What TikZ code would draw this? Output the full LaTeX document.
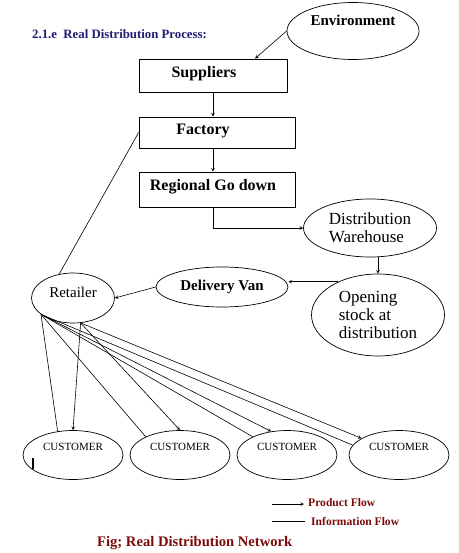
\documentclass[tikz,border=0pt]{standalone}
\usepackage{fontspec}
\setmainfont{Liberation Serif}
\usepackage{xcolor}
\usepackage{tikz}
\usetikzlibrary{shapes.geometric}
\definecolor{titleblue}{RGB}{30,30,115}
\definecolor{capred}{RGB}{125,10,10}
\newcommand{\fsz}[1]{\fontsize{#1}{1.06\dimexpr#1pt\relax}\selectfont}

\begin{document}
\begin{tikzpicture}[x=1pt, y=-1pt,
  box/.style = {draw, line width=0.8pt, rectangle, inner sep=0pt},
  oval/.style = {draw, line width=0.7pt, ellipse, inner sep=0pt},
  prod/.style = {-stealth, line width=0.6pt},
  info/.style = {line width=0.6pt},
  bigbold/.style = {font=\fsz{16}\bfseries},
  cust/.style = {oval, minimum width=100pt, minimum height=49pt},
  custtxt/.style = {font=\fsz{11}}]
  \useasboundingbox (0,0) rectangle (458,553);

  % Heading
  \node[anchor=west, inner sep=0pt, text=titleblue, font=\fsz{12.8}\bfseries] (title) at (32,34) {2.1.e\ \ Real Distribution Process:};

  % Environment
  \node[oval, minimum width=132pt, minimum height=57pt] (env) at (353,31) {};
  \node[font=\fsz{15}\bfseries] (envtxt) at (353,20) {Environment};

  % Boxes
  \node[box, minimum width=148pt, minimum height=33pt] (sup) at (213,75.5) {};
  \node[bigbold] (suptxt) at (204,74) {Suppliers};
  \node[box, minimum width=156pt, minimum height=31pt] (fac) at (217,132.5) {};
  \node[bigbold] (factxt) at (203,131) {Factory};
  \node[box, minimum width=156pt, minimum height=35pt] (reg) at (217,189.5) {};
  \node[bigbold] (regtxt) at (213,187) {Regional Go down};

  % Ellipses on the right
  \node[oval, minimum width=133pt, minimum height=58pt, align=left, font=\fsz{17}] (dw) at (370,228) {Distribution\\Warehouse};
  \node[oval, minimum width=133pt, minimum height=82pt, align=left, font=\fsz{17}] (os) at (378,315) {Opening\\stock at\\distribution};
  \node[oval, minimum width=132pt, minimum height=40pt, font=\fsz{15}\bfseries] (dv) at (222,287) {Delivery Van};
  \node[oval, minimum width=83pt, minimum height=50pt] (ret) at (73,298) {};
  \node[font=\fsz{15}] (rettxt) at (73,292) {Retailer};

  % Customers
  \node[cust] (cu1) at (73,455) {};
  \node[custtxt] (cu1t) at (73,447) {CUSTOMER};
  \node[cust] (cu2) at (180,455) {};
  \node[custtxt] (cu2t) at (180,447) {CUSTOMER};
  \node[cust] (cu3) at (287,455) {};
  \node[custtxt] (cu3t) at (287,447) {CUSTOMER};
  \node[cust] (cu4) at (399,455) {};
  \node[custtxt] (cu4t) at (399,447) {CUSTOMER};
  \draw[line width=1.6pt] (33,458) -- (33,469);

  % Product flow
  \draw[prod] (env.west) -- ([xshift=42pt]sup.north);
  \draw[prod] (sup.south) -- (fac.north -| sup.south);
  \draw[prod] (fac.south -| sup.south) -- (reg.north -| sup.south);
  \draw[prod] (reg.south -| sup.south) |- (dw.west);
  \draw[prod] (os.north |- dw.south) -- (os.north);
  \draw[prod] (os.140) -- (os.140 -| dv.east);
  \draw[prod] (dv.west) -- (ret.east);

  % Information flow
  \draw[info] (fac.west) -- (ret.120);

  % Retailer to customers
  \coordinate (rA) at (ret.207);
  \coordinate (rB) at (ret.287);
  \draw[info] (rA) -- (cu1.123);
  \draw[prod] (rB) -- (cu1.north);
  \draw[info] (rA) -- (cu2.152);
  \draw[prod] (rB) -- (cu2.north);
  \draw[info] (rA) -- (cu3.152);
  \draw[prod] (rA) -- (cu3.124);
  \draw[info] (rA) -- (cu4.168);
  \draw[prod] (rB) -- (cu4.156);

  % Legend
  \node[anchor=west, inner sep=0pt, text=capred, font=\fsz{11.6}\bfseries] (pflbl) at (308,503) {Product Flow};
  \node[anchor=west, inner sep=0pt, text=capred, font=\fsz{11.6}\bfseries] (iflbl) at (311,521) {Information Flow};
  \coordinate (pfs) at (272,504);
  \coordinate (ifs) at (272,521);
  \draw[prod] (pfs) -- ([xshift=-4pt]pflbl.west |- pfs);
  \draw[info] (ifs) -- ([xshift=-6pt]iflbl.west);

  % Caption
  \node[anchor=west, inner sep=0pt, text=capred, font=\fsz{14.6}\bfseries] (cap) at (97,543) {Fig; Real Distribution Network};
\end{tikzpicture}
\end{document}
